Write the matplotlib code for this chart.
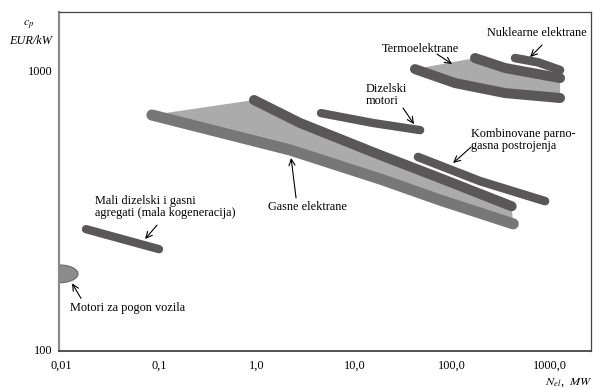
import numpy as np
from matplotlib import pyplot as plt

plt.rcParams['font.family'] = ['Liberation Serif', 'DejaVu Serif']
plt.rcParams['mathtext.fontset'] = 'stix'

# snaga N [MW] i specificna cijena c_p [EUR/kW] za pojedine tehnologije
gas_gornja_x = [0.94, 2.78, 18.3, 75.0, 405.0]
gas_gornja_y = [781, 646, 496, 410, 325]
gas_donja_x = [0.085, 2.2, 18.3, 75.0, 420.0]
gas_donja_y = [690, 517, 407, 342, 281]

termo_gornja_x = [171, 347, 1266]
termo_gornja_y = [1104, 1017, 936]
termo_donja_x = [41.6, 107, 347, 1266]
termo_donja_y = [1008, 898, 827, 794]

nuklearne_x = [439, 754, 1266]
nuklearne_y = [1104, 1066, 1000]

dizel_motori_x = [4.55, 15.5, 47.0]
dizel_motori_y = [701, 646, 609]

kombinovane_x = [44.7, 192, 889]
kombinovane_y = [488, 400, 339]

mali_agregati_x = [0.018, 0.1005]
mali_agregati_y = [269, 228]

# elipsa za motore vozila (centar i poluose u dekadama)
vozila_centar = (0.00954, 186)
vozila_poluose = (0.194, 0.032)

x_tickovi = [0.01, 0.1, 1, 10, 100, 1000]
x_oznake = ['0,01', '0,1', '1,0', '10,0', '100,0', '1000,0']
y_tickovi = [100, 1000]
y_oznake = ['100', '1000']

tamna = '#595757'
srednja = '#777777'
svijetla = '#ababab'

fig = plt.figure(figsize=(5.95, 3.89), dpi=100)
ax = fig.add_axes([0.0992, 0.0977, 0.8941, 0.8715])
ax.set_xscale('log')
ax.set_yscale('log')
ax.set_xlim(0.00954, 2624)
ax.set_ylim(98.4, 1615)

# gasne elektrane - klin
ax.fill(gas_donja_x + gas_gornja_x[::-1], gas_donja_y + gas_gornja_y[::-1],
        color=svijetla, lw=0, zorder=1)
ax.plot(gas_donja_x, gas_donja_y, color=srednja, lw=8, solid_capstyle='round',
        solid_joinstyle='round', zorder=2)
ax.plot(gas_gornja_x, gas_gornja_y, color=tamna, lw=7.2, solid_capstyle='round',
        solid_joinstyle='round', zorder=3)

# termoelektrane
ax.fill(termo_donja_x + termo_gornja_x[::-1], termo_donja_y + termo_gornja_y[::-1],
        color=svijetla, lw=0, zorder=1)
for xs, ys in [(termo_donja_x, termo_donja_y), (termo_gornja_x, termo_gornja_y)]:
    ax.plot(xs, ys, color=tamna, lw=7.2, solid_capstyle='round',
            solid_joinstyle='round', zorder=3)

# ostale trake
for xs, ys, lw in [(nuklearne_x, nuklearne_y, 6.2),
                   (dizel_motori_x, dizel_motori_y, 6.0),
                   (kombinovane_x, kombinovane_y, 6.2),
                   (mali_agregati_x, mali_agregati_y, 6.0)]:
    ax.plot(xs, ys, color=tamna, lw=lw, solid_capstyle='round',
            solid_joinstyle='round', zorder=3)

# motori za pogon vozila
t = np.linspace(0, 2 * np.pi, 120)
ex = 10 ** (np.log10(vozila_centar[0]) + vozila_poluose[0] * np.cos(t))
ey = 10 ** (np.log10(vozila_centar[1]) + vozila_poluose[1] * np.sin(t))
ax.fill(ex, ey, facecolor='#8c8c8c', edgecolor='#6a6a6a', lw=0.8, zorder=2)

# natpisi sa strelicama
fs = 8.8
strelica = dict(arrowstyle='->,head_length=0.45,head_width=0.22', color='black', lw=0.8,
                shrinkA=0, shrinkB=0)
natpisi = [
    ('Nuklearne elektrane', (227, 1357), (828, 1229), (625, 1113)),
    ('Termoelektrane', (19.15, 1189), (69.9, 1141), (99.5, 1051)),
    ('Dizelski\nmotori', (13.1, 814), (31.4, 731), (40.7, 640)),
    ('Kombinovane parno-\ngasna postrojenja', (156, 561), (156, 530), (102, 464)),
    ('Gasne elektrane', (1.308, 323), (2.53, 348), (2.25, 484)),
    ('Mali dizelski i gasni\nagregati (mala kogeneracija)', (0.02226, 323),
     (0.0959, 278), (0.0723, 248)),
    ('Motori za pogon vozila', (0.01236, 140.3), (0.016, 152), (0.01296, 172)),
]
for tekst, poz, rep, vrh in natpisi:
    ax.text(poz[0], poz[1], tekst, fontsize=fs, ha='left', va='center',
            linespacing=1.05, zorder=5)
    ax.annotate('', xy=vrh, xytext=rep, arrowprops=strelica, zorder=5)

ax.set_xticks(x_tickovi)
ax.set_xticklabels(x_oznake)
ax.set_yticks(y_tickovi)
ax.set_yticklabels(y_oznake)
ax.minorticks_off()
ax.tick_params(axis='both', length=0, labelsize=fs)
ax.tick_params(axis='x', pad=6)
ax.tick_params(axis='y', pad=4.5)

ax.spines['left'].set_color('#8a8a8a')
ax.spines['left'].set_linewidth(1.6)
ax.spines['bottom'].set_color('#444444')
ax.spines['bottom'].set_linewidth(1.3)
for s in ['top', 'right']:
    ax.spines[s].set_color('#444444')
    ax.spines[s].set_linewidth(0.9)

fig.text(0.049, 0.9357, r'$c_p$', fontsize=fs, ha='center', va='center')
fig.text(0.052, 0.8946, 'EUR/kW', fontsize=fs, style='italic', ha='center', va='center')
fig.text(0.916, 0.0154, r'$N_{el}$,  $MW$', fontsize=fs, ha='left', va='center')

plt.savefig('out.png', dpi=100)
